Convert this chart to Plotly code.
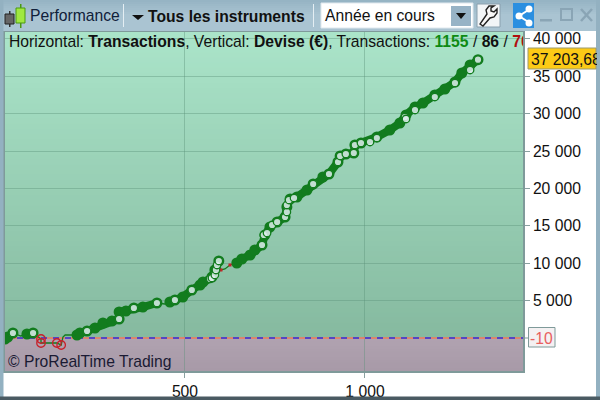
import plotly.graph_objects as go

# Data
trades = [0,8,22,44,61,78,100,100,144,156,161,167,200,208,228,250,272,297,317,317,336,358,383,422,444,458,472,494,519,542,550,575,583,594,600,611,625,644,658,681,694,714,722,736,756,778,783,792,811,839,856,883,900,925,931,947,969,972,989,1033,1069,1097,1114,1139,1161,1194,1222,1250,1269,1292,1314]
equity = [-134,134,669,268,535,669,-134,-669,-669,-936,134,401,401,669,936,1337,2005,2273,2540,3476,3610,4011,4144,4679,4545,4813,5080,5481,6417,7086,7487,8155,9091,10294,9091,9225,9759,10027,10561,11096,11765,12433,13770,14840,15508,16176,17513,18583,18850,19786,20588,21524,21925,23529,24332,24599,24733,25802,26070,26872,27807,28743,29813,30882,31417,32487,33289,34225,35428,36497,37204]
dense_ranges = [(0,22),(61,78),(200,422),(458,594),(644,1314)]
open_x = [22,78,228,317,358,422,472,519,570,575,583,586,589,594,714,719,728,742,756,778,783,783,789,803,856,900,925,931,947,969,972,989,1014,1033,1111,1114,1139,1194,1250,1292,1314]
open_y = [669,669,936,2540,4011,4679,5080,6417,7900,8022,8423,9092,9760,10294,12434,13771,14039,15108,15509,16178,16846,17782,18451,18718,20588,21927,23531,24333,24601,24735,25804,26072,26205,26740,29548,29280,30484,32222,34094,35832,37204]
loss_x = [100,100,144,156]
loss_y = [-134,-669,-669,-936]
loss_tick_x = [600,625]
loss_tick_y = [9091,9759]
x_ticks = [500,1000]
x_labels = ["500","1 000"]
y_ticks = [5000,10000,15000,20000,25000,30000,35000,40000]
y_labels = ["5 000","10 000","15 000","20 000","25 000","30 000","35 000","40 000"]
breakeven = -10
last_label = "37 203,68"
X0, X1 = 0, 1439
Y0, Y1 = -4412, 40909

L, R, T, B = 5, 523, 32, 371
def px(x): return (x-L)/(R-L)
def py(y): return (B-y)/(B-T)
def path(pts, close=True):
    s = "M"+" L".join(f"{px(a):.5f},{py(b):.5f}" for a,b in pts)
    return s+(" Z" if close else "")

FONT = "Liberation Sans"
FS = 15.7
shapes, ann = [], []
def rect(x0,y0,x1,y1,fill,line=None,lw=1,layer="above"):
    shapes.append(dict(type="rect",xref="paper",yref="paper",x0=px(x0),x1=px(x1),y0=py(y0),y1=py(y1),
                       fillcolor=fill,line=dict(color=line or fill,width=lw if line else 0),layer=layer))
def poly(pts,fill=None,line=None,lw=1,close=True):
    shapes.append(dict(type="path",xref="paper",yref="paper",path=path(pts,close),fillcolor=fill or "rgba(0,0,0,0)",
                       line=dict(color=line or "rgba(0,0,0,0)",width=lw)))
def circ(x,y,r,fill):
    shapes.append(dict(type="circle",xref="paper",yref="paper",x0=px(x-r),x1=px(x+r),y0=py(y+r),y1=py(y-r),fillcolor=fill,line=dict(width=0)))
def text(x,y,s,color="#111",size=FS,anchor="left",**kw):
    ann.append(dict(xref="paper",yref="paper",x=px(x),y=py(y),text=s,showarrow=False,xanchor=anchor,yanchor="middle",
                    font=dict(family=FONT,size=size,color=color),borderpad=0,**kw))

def mix(a,b,t):
    return "#%02x%02x%02x"%tuple(round(a[i]+(b[i]-a[i])*t) for i in range(3))
# Plot background gradient (painted over itself from the top down, so no seams)
N=60
for i in range(N):
    v0=Y1*(1-i/N)
    shapes.append(dict(type="rect",xref="x",yref="y",x0=X0,x1=X1,y0=0,y1=v0,layer="below",line=dict(width=0),
                       fillcolor=mix((170,228,201),(134,186,160),i/(N-1))))
for i in range(12):
    v0=Y0*i/12
    shapes.append(dict(type="rect",xref="x",yref="y",x0=X0,x1=X1,y0=Y0,y1=v0,layer="below",line=dict(width=0),
                       fillcolor=mix((176,162,176),(168,154,168),i/11)))

# Window chrome
rect(0,0,600,31,"#a3bfce")
for i in range(8):
    rect(0,i*2,600,31 if i==7 else i*2+3,mix((150,180,196),(170,196,210),i/7))
rect(0,0,3.5,400,"#93b1c1"); rect(596,0,600,400,"#93b1c1")
rect(0,396.5,600,400,"#4a5a62")
# candle icon
rect(9,11,10.5,27,"#333"); rect(5,14,14,24,"#666","#222",1)
rect(20,4,21.5,28,"#4a9a10"); rect(16,8,25,23,"#a0e840","#4a9a10",1)
text(29,15,"Performance","#10203a")
rect(123,4,124,27,"#e4eef3")
poly([(132,15),(144,15),(138,20)],"#111")
text(147,16,"<b>Tous les instruments</b>","#111")
rect(313,4,314,27,"#e4eef3")
# period selector
rect(321,3,473,28,"#ffffff","#dfe8ee",1)
text(324,15.5,"Année en cours","#111")
rect(451,6,471,26,"#97b3c6")
poly([(456,13),(466,13),(461,19)],"#111")
# wrench button
rect(477,4,500,27,"#f2f5f7","#8aa0ae",1)
poly([(480,24),(483,26),(490,18),(494,17),(497,13),(497,9),(494,12),(491,11),(491,8),(494,6),(489,6),(486,10),(487,14)],"#f8f8f8","#222",1.4)
# share icon
rect(513,3,534,28,"#2b8fe0")
poly([(530,9),(519,16),(530,23)],None,"#ffffff",2,False)
circ(529,9,3.5,"#fff"); circ(519,16,3.5,"#fff"); circ(529,23,3.5,"#fff")
# window buttons
rect(540,19,552,21.5,"#8aa5b5")
rect(561,9,572,20,"rgba(0,0,0,0)","#8aa5b5",2)
poly([(581,9),(592,21)],None,"#8aa5b5",2.5,False); poly([(592,9),(581,21)],None,"#8aa5b5",2.5,False)

# Last value and break-even labels
rect(528,48,596,69,"#fcca16","#9a9a70",1)
ann.append(dict(xref="paper",yref="paper",x=px(530),y=py(59),text=last_label,showarrow=False,xanchor="left",yanchor="middle",
                align="left",width=66,font=dict(family=FONT,size=FS,color="#111"),borderpad=0))
rect(528.5,327.5,555,347,"#f4f1f2","#7f9a9a",1)
text(541.5,338,str(breakeven),"#e8605f",FS,"center")
shapes.append(dict(type="line",xref="paper",yref="paper",x0=px(523),x1=px(528),y0=py(338),y1=py(338),line=dict(color="#7f9a9a",width=1)))
# Header line
ann.append(dict(xref="paper",yref="paper",x=px(8),y=py(41),showarrow=False,xanchor="left",yanchor="middle",align="left",width=514,
    text='Horizontal: <b>Transactions</b>, Vertical: <b>Devise (€)</b>, Transactions: <b><span style="color:#0d8a12">1155</span></b> / <b>86</b> / <b><span style="color:#b01010">70</span></b>',
    font=dict(family=FONT,size=FS,color="#111"),borderpad=0))
text(7,361,"© ProRealTime Trading","#1a1a33")

# Runs of densely packed trades
dx, dy = [], []
for a,b in dense_ranges:
    for t,e in zip(trades,equity):
        if a<=t<=b:
            dx.append(t); dy.append(e)
    dx.append(None); dy.append(None)

fig = go.Figure()
fig.add_trace(go.Scatter(x=[X0,X1],y=[breakeven,breakeven],mode="lines",line=dict(color="#f0785a",width=1.5),hoverinfo="skip"))
fig.add_trace(go.Scatter(x=[X0,X1],y=[breakeven,breakeven],mode="lines",line=dict(color="#2a30e0",width=1.5,dash="6px,6px"),hoverinfo="skip"))
fig.add_trace(go.Scatter(x=trades,y=equity,mode="lines",line=dict(color="#127c1e",width=1.3)))
fig.add_trace(go.Scatter(x=dx,y=dy,mode="lines+markers",connectgaps=False,line=dict(color="#127c1e",width=8),marker=dict(size=11,color="#127c1e")))
fig.add_trace(go.Scatter(x=loss_x,y=loss_y,mode="markers",marker=dict(size=8.5,color="rgba(255,255,255,0)",line=dict(color="#c8202a",width=1.3))))
fig.add_trace(go.Scatter(x=loss_tick_x,y=loss_tick_y,mode="markers",marker=dict(size=3,symbol="square",color="#c8202a")))
fig.add_trace(go.Scatter(x=open_x,y=open_y,mode="markers",marker=dict(size=7.5,color="rgba(225,240,240,0.85)",line=dict(color="#127c1e",width=1.3))))

GRID = "rgba(90,145,120,0.4)"
fig.update_layout(
    width=600,height=400,margin=dict(l=L,r=600-R,t=T,b=400-B,autoexpand=False),
    paper_bgcolor="#ffffff",plot_bgcolor="rgba(0,0,0,0)",showlegend=False,
    shapes=shapes,annotations=ann,font=dict(family=FONT,size=FS,color="#111"),
    xaxis=dict(range=[X0,X1],tickvals=x_ticks,ticktext=x_labels,showgrid=True,gridcolor=GRID,gridwidth=1,
               zeroline=False,ticks="outside",ticklen=5,tickcolor="#8aa0a0",showline=True,linecolor="#7f9a9a",linewidth=1.5,mirror=True,
               tickfont=dict(family=FONT,size=FS,color="#111")),
    yaxis=dict(range=[Y0,Y1],tickvals=y_ticks,ticktext=y_labels,side="right",showgrid=True,gridcolor=GRID,gridwidth=1,
               zeroline=False,ticks="outside",ticklen=5,tickcolor="#8aa0a0",showline=True,linecolor="#7f9a9a",linewidth=1.5,mirror=True,
               tickfont=dict(family=FONT,size=FS,color="#111")),
)
fig.write_html("out.html",config=dict(displayModeBar=False),
               post_script="document.documentElement.style.margin='0';document.body.style.margin='0';")
